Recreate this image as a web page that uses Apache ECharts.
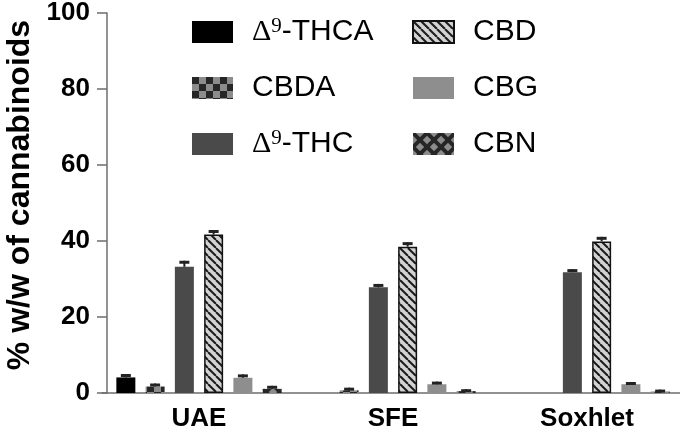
<!DOCTYPE html>
<html>
<head>
<meta charset="utf-8">
<script src="https://cdn.jsdelivr.net/npm/echarts@6/dist/echarts.min.js"></script>
<style>
  html, body { margin: 0; padding: 0; background: #fff; }
  #chart { width: 680px; height: 438px; }
</style>
</head>
<body>
<div id="chart"></div>
<script>
// extraction methods
var categories = ['UAE', 'SFE', 'Soxhlet'];

// mean values (% w/w of cannabinoids)
var thca = [4.1, 0, 0];
var cbda = [1.7, 0.7, 0];
var thc  = [33.2, 27.8, 31.8];
var cbd  = [41.7, 38.5, 39.9];
var cbg  = [4.0, 2.3, 2.3];
var cbn  = [1.1, 0.5, 0.4];

// standard deviations (upper error bars)
var thcaSd = [0.9, 0, 0];
var cbdaSd = [0.8, 0.7, 0];
var thcSd  = [1.6, 0.9, 0.8];
var cbdSd  = [1.2, 1.2, 1.2];
var cbgSd  = [0.9, 0.7, 0.6];
var cbnSd  = [0.8, 0.5, 0.5];

var yTicks = [0, 20, 40, 60, 80, 100];

var names = ['THCA', 'CBDA', 'THC', 'CBD', 'CBG', 'CBN'];
var labels = {
	'THCA': '{d|\u0394}{s|9}-THCA',
	'CBDA': 'CBDA',
	'THC' : '{d|\u0394}{s|9}-THC',
	'CBD' : 'CBD',
	'CBG' : 'CBG',
	'CBN' : 'CBN'
};

var BAR_W = 19;
var GAP = 0.54;
var PITCH = BAR_W * (1 + GAP);

/*
 * fill patterns
 */
function checker() {
	var c = document.createElement('canvas');
	c.width = 14; c.height = 14;
	var g = c.getContext('2d');
	g.fillStyle = '#8c8c8c'; g.fillRect(0, 0, 14, 14);
	g.fillStyle = '#262626';
	g.fillRect(0, 0, 7, 7);
	g.fillRect(7, 7, 7, 7);
	return { image: c, repeat: 'repeat' };
}

function hatch() {
	var c = document.createElement('canvas');
	c.width = 8; c.height = 8;
	var g = c.getContext('2d');
	g.fillStyle = '#d2d2d2'; g.fillRect(0, 0, 8, 8);
	g.strokeStyle = '#1a1a1a'; g.lineWidth = 2;
	[-8, 0, 8].forEach(function(o) {
		g.beginPath(); g.moveTo(o, 0); g.lineTo(o + 8, 8); g.stroke();
	});
	return { image: c, repeat: 'repeat' };
}

function cross() {
	var c = document.createElement('canvas');
	c.width = 14; c.height = 14;
	var g = c.getContext('2d');
	g.fillStyle = '#8c8c8c'; g.fillRect(0, 0, 14, 14);
	g.strokeStyle = '#262626'; g.lineWidth = 4;
	[-14, 0, 14].forEach(function(o) {
		g.beginPath(); g.moveTo(o, 0); g.lineTo(o + 14, 14); g.stroke();
		g.beginPath(); g.moveTo(o + 14, 0); g.lineTo(o, 14); g.stroke();
	});
	return { image: c, repeat: 'repeat' };
}

var values = [thca, cbda, thc, cbd, cbg, cbn];
var sds = [thcaSd, cbdaSd, thcSd, cbdSd, cbgSd, cbnSd];
var styles = [
	{ color: '#000000' },
	{ color: checker() },
	{ color: '#4a4a4a' },
	{ color: hatch(), borderColor: '#111', borderWidth: 1.5 },
	{ color: '#8e8e8e' },
	{ color: cross() }
];

var series = [];
for (var i = 0; i < names.length; i++) {
	series.push({
		name: names[i],
		type: 'bar',
		barWidth: BAR_W,
		barGap: (GAP * 100) + '%',
		itemStyle: styles[i],
		data: values[i]
	});
}

// error bars
var errData = [];
for (var s = 0; s < names.length; s++) {
	for (var k = 0; k < categories.length; k++) {
		if (values[s][k] > 0 && sds[s][k] > 0) {
			errData.push([k, s, values[s][k], sds[s][k]]);
		}
	}
}
series.push({
	type: 'custom',
	name: 'err',
	z: 5,
	encode: { x: 0, y: 2 },
	data: errData,
	renderItem: function(params, api) {
		var ci = api.value(0), si = api.value(1);
		var v = api.value(2), sd = api.value(3);
		var base = api.coord([ci, v]);
		var top = api.coord([ci, v + sd]);
		var x = base[0] + (si - 2.5) * PITCH;
		return {
			type: 'group',
			children: [
				{ type: 'rect', shape: { x: x - 1, y: top[1], width: 2, height: base[1] - top[1] }, style: { fill: '#222' } },
				{ type: 'rect', shape: { x: x - 5, y: top[1], width: 10, height: 3 }, style: { fill: '#222' } }
			]
		};
	}
});

var legendText = {
	fontFamily: 'Liberation Sans',
	fontSize: 30,
	color: '#000',
	lineHeight: 32,
	padding: [0, 0, 0, 14],
	rich: {
		d: { fontFamily: 'Liberation Serif', fontSize: 30, lineHeight: 32 },
		s: { fontFamily: 'Liberation Serif', fontSize: 21, lineHeight: 20, verticalAlign: 'top' }
	}
};

function legendAt(data, left) {
	return {
		data: data,
		orient: 'vertical',
		left: left,
		top: 16,
		padding: 0,
		itemWidth: 41,
		itemHeight: 22,
		itemGap: 24,
		icon: 'rect',
		selectedMode: false,
		formatter: function(name) { return labels[name]; },
		textStyle: legendText
	};
}

var chart = echarts.init(document.getElementById('chart'));
chart.setOption({
	animation: false,
	textStyle: { fontFamily: 'Liberation Sans' },
	legend: [
		legendAt(['THCA', 'CBDA', 'THC'], 192),
		legendAt(['CBD', 'CBG', 'CBN'], 412)
	],
	grid: { left: 102, right: -4, top: 13, bottom: 45, outerBoundsMode: 'none', containLabel: false },
	xAxis: {
		type: 'category',
		data: categories,
		axisLine: { lineStyle: { color: '#6e6e6e', width: 1.5 } },
		axisTick: { alignWithLabel: true, length: 7, lineStyle: { color: '#6e6e6e', width: 1.5 } },
		axisLabel: { color: '#000', fontSize: 26, fontWeight: 'bold', margin: 13 }
	},
	yAxis: {
		type: 'value',
		min: yTicks[0],
		max: yTicks[yTicks.length - 1],
		interval: yTicks[1] - yTicks[0],
		offset: -5,
		splitLine: { show: false },
		axisLine: { show: true, lineStyle: { color: '#6e6e6e', width: 1.5 } },
		axisTick: { show: true, length: 10, lineStyle: { color: '#6e6e6e', width: 1.5 } },
		axisLabel: { color: '#000', fontSize: 26, fontWeight: 'bold', margin: 17 },
		name: '% w/w of cannabinoids',
		nameLocation: 'middle',
		nameGap: 71,
		nameTextStyle: { color: '#000', fontSize: 32, fontWeight: 'bold', padding: [0, 0, 0, 16] }
	},
	series: series
});
</script>
</body>
</html>
